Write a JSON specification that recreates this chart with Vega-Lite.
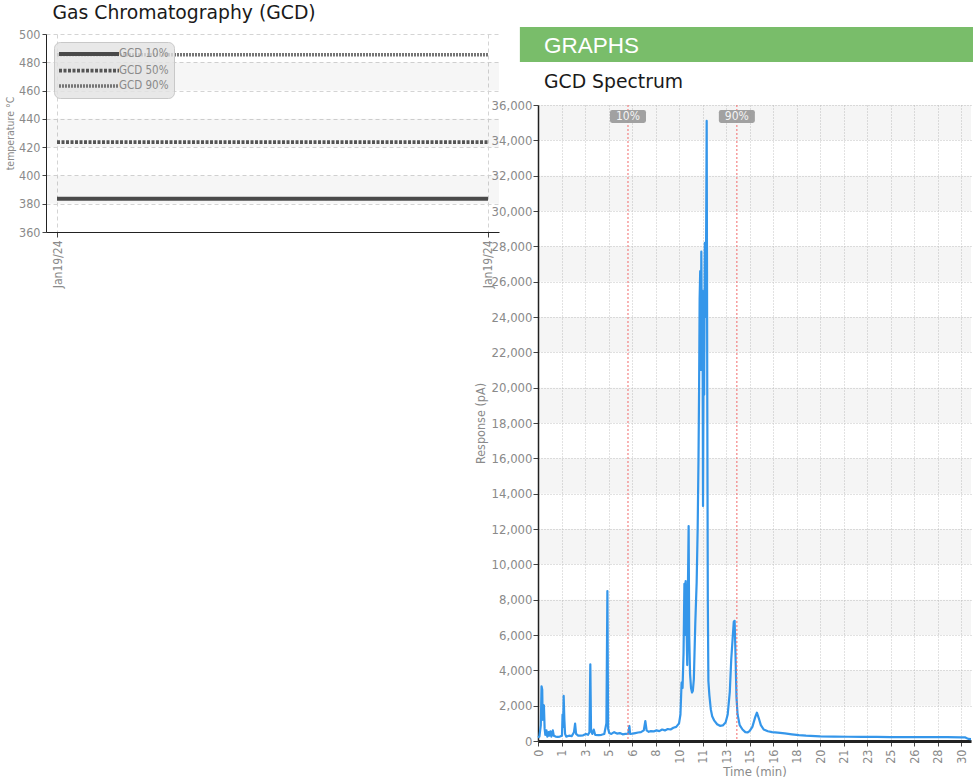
{
  "$schema": "https://vega.github.io/schema/vega-lite/v6.json",
  "background": "white",
  "padding": {"left": 5, "top": 4, "right": 0, "bottom": 0},
  "title": {"text": "Gas Chromatography (GCD)", "anchor": "start", "frame": "bounds", "dx": 47, "fontSize": 18.8, "font": "DejaVu Sans", "fontWeight": "normal", "color": "#1a1a1a", "baseline": "alphabetic", "offset": -11},
  "spacing": -25,
  "datasets": {
    "temps": [
      {"date": "2024-01-19T00:00:00", "series": "GCD 10%", "temp": 383.5},
      {"date": "2024-01-19T12:00:00", "series": "GCD 10%", "temp": 383.5},
      {"date": "2024-01-19T00:00:00", "series": "GCD 50%", "temp": 423.5},
      {"date": "2024-01-19T12:00:00", "series": "GCD 50%", "temp": 423.5},
      {"date": "2024-01-19T00:00:00", "series": "GCD 90%", "temp": 485.4},
      {"date": "2024-01-19T12:00:00", "series": "GCD 90%", "temp": 485.4}
    ],
    "tempBands": [
      {"lo": 380, "hi": 400}, {"lo": 420, "hi": 440}, {"lo": 460, "hi": 480}
    ],
    "header": [{"label": "GRAPHS"}],
    "respBands": [
      {"lo": 2000, "hi": 4000}, {"lo": 6000, "hi": 8000}, {"lo": 10000, "hi": 12000},
      {"lo": 14000, "hi": 16000}, {"lo": 18000, "hi": 20000}, {"lo": 22000, "hi": 24000},
      {"lo": 26000, "hi": 28000}, {"lo": 30000, "hi": 32000}, {"lo": 34000, "hi": 36000}
    ],
    "cuts": [
      {"label": "10%", "t": 6.38},
      {"label": "90%", "t": 14.1}
    ],
    "spectrum": [
      {"t": 0.0, "pA": 200}, {"t": 0.1, "pA": 250}, {"t": 0.2, "pA": 900}, {"t": 0.25, "pA": 3100},
      {"t": 0.3, "pA": 2900}, {"t": 0.33, "pA": 1200}, {"t": 0.38, "pA": 2050}, {"t": 0.42, "pA": 2000},
      {"t": 0.47, "pA": 700}, {"t": 0.52, "pA": 350}, {"t": 0.6, "pA": 600}, {"t": 0.66, "pA": 250},
      {"t": 0.75, "pA": 500}, {"t": 0.8, "pA": 300}, {"t": 0.88, "pA": 550}, {"t": 0.95, "pA": 250},
      {"t": 1.05, "pA": 600}, {"t": 1.12, "pA": 300}, {"t": 1.25, "pA": 250}, {"t": 1.4, "pA": 230},
      {"t": 1.55, "pA": 250}, {"t": 1.7, "pA": 300}, {"t": 1.74, "pA": 1500}, {"t": 1.78, "pA": 800},
      {"t": 1.82, "pA": 2550}, {"t": 1.87, "pA": 1200}, {"t": 1.92, "pA": 400}, {"t": 2.0, "pA": 250},
      {"t": 2.2, "pA": 300}, {"t": 2.4, "pA": 280}, {"t": 2.55, "pA": 500}, {"t": 2.63, "pA": 980},
      {"t": 2.7, "pA": 400}, {"t": 2.85, "pA": 300}, {"t": 3.0, "pA": 300}, {"t": 3.2, "pA": 320},
      {"t": 3.4, "pA": 400}, {"t": 3.55, "pA": 350}, {"t": 3.65, "pA": 500}, {"t": 3.71, "pA": 4340},
      {"t": 3.76, "pA": 600}, {"t": 3.85, "pA": 400}, {"t": 3.95, "pA": 650}, {"t": 4.05, "pA": 350},
      {"t": 4.3, "pA": 330}, {"t": 4.5, "pA": 350}, {"t": 4.7, "pA": 400}, {"t": 4.85, "pA": 1000},
      {"t": 4.92, "pA": 8490}, {"t": 4.97, "pA": 700}, {"t": 5.05, "pA": 450}, {"t": 5.2, "pA": 400},
      {"t": 5.4, "pA": 500}, {"t": 5.6, "pA": 420}, {"t": 5.8, "pA": 450}, {"t": 6.0, "pA": 380},
      {"t": 6.2, "pA": 400}, {"t": 6.4, "pA": 420}, {"t": 6.48, "pA": 850}, {"t": 6.53, "pA": 400},
      {"t": 6.7, "pA": 420}, {"t": 6.9, "pA": 450}, {"t": 7.1, "pA": 480}, {"t": 7.3, "pA": 500},
      {"t": 7.5, "pA": 600}, {"t": 7.61, "pA": 1130}, {"t": 7.7, "pA": 600}, {"t": 7.85, "pA": 520},
      {"t": 8.0, "pA": 560}, {"t": 8.2, "pA": 540}, {"t": 8.4, "pA": 600}, {"t": 8.6, "pA": 560},
      {"t": 8.8, "pA": 650}, {"t": 9.0, "pA": 600}, {"t": 9.2, "pA": 680}, {"t": 9.4, "pA": 650},
      {"t": 9.6, "pA": 750}, {"t": 9.8, "pA": 800}, {"t": 10.0, "pA": 1000}, {"t": 10.1, "pA": 1500},
      {"t": 10.18, "pA": 3300}, {"t": 10.25, "pA": 3000}, {"t": 10.32, "pA": 5000}, {"t": 10.38, "pA": 8900},
      {"t": 10.42, "pA": 6000}, {"t": 10.47, "pA": 9050}, {"t": 10.52, "pA": 7000}, {"t": 10.58, "pA": 4300},
      {"t": 10.62, "pA": 8000}, {"t": 10.68, "pA": 12170}, {"t": 10.72, "pA": 6000}, {"t": 10.78, "pA": 3800},
      {"t": 10.85, "pA": 3000}, {"t": 10.92, "pA": 2750}, {"t": 10.98, "pA": 2850}, {"t": 11.05, "pA": 3500},
      {"t": 11.15, "pA": 6600}, {"t": 11.25, "pA": 9000}, {"t": 11.32, "pA": 12000}, {"t": 11.38, "pA": 16000},
      {"t": 11.42, "pA": 19800}, {"t": 11.46, "pA": 25000}, {"t": 11.5, "pA": 26600}, {"t": 11.54, "pA": 21000},
      {"t": 11.58, "pA": 27700}, {"t": 11.62, "pA": 23000}, {"t": 11.66, "pA": 25500}, {"t": 11.7, "pA": 13300},
      {"t": 11.74, "pA": 21300}, {"t": 11.78, "pA": 19600}, {"t": 11.83, "pA": 28200}, {"t": 11.88, "pA": 24000},
      {"t": 11.92, "pA": 28500}, {"t": 11.96, "pA": 35100}, {"t": 12.0, "pA": 20000}, {"t": 12.04, "pA": 8000},
      {"t": 12.08, "pA": 3400}, {"t": 12.15, "pA": 2600}, {"t": 12.25, "pA": 1800}, {"t": 12.35, "pA": 1400},
      {"t": 12.5, "pA": 1150}, {"t": 12.7, "pA": 950}, {"t": 12.9, "pA": 860}, {"t": 13.1, "pA": 880},
      {"t": 13.3, "pA": 1050}, {"t": 13.45, "pA": 1500}, {"t": 13.6, "pA": 2800}, {"t": 13.7, "pA": 4600},
      {"t": 13.8, "pA": 5800}, {"t": 13.88, "pA": 6750}, {"t": 13.94, "pA": 6800}, {"t": 14.0, "pA": 5000},
      {"t": 14.07, "pA": 2500}, {"t": 14.15, "pA": 1500}, {"t": 14.3, "pA": 900}, {"t": 14.5, "pA": 650},
      {"t": 14.7, "pA": 500}, {"t": 14.85, "pA": 480}, {"t": 15.0, "pA": 560}, {"t": 15.2, "pA": 800},
      {"t": 15.4, "pA": 1350}, {"t": 15.52, "pA": 1600}, {"t": 15.65, "pA": 1300}, {"t": 15.8, "pA": 900},
      {"t": 16.0, "pA": 650}, {"t": 16.3, "pA": 550}, {"t": 16.6, "pA": 500}, {"t": 17.0, "pA": 470},
      {"t": 17.5, "pA": 430}, {"t": 18.0, "pA": 380}, {"t": 18.5, "pA": 330}, {"t": 19.0, "pA": 300},
      {"t": 20.0, "pA": 260}, {"t": 21.0, "pA": 250}, {"t": 22.0, "pA": 240}, {"t": 23.0, "pA": 230},
      {"t": 24.0, "pA": 230}, {"t": 25.0, "pA": 225}, {"t": 26.0, "pA": 220}, {"t": 27.0, "pA": 220},
      {"t": 28.0, "pA": 215}, {"t": 29.0, "pA": 215}, {"t": 30.0, "pA": 210}, {"t": 30.3, "pA": 200},
      {"t": 30.5, "pA": 120}, {"t": 30.7, "pA": 110}
    ]
  },
  "hconcat": [
    {
      "width": 453,
      "height": 198,
      "layer": [
        {
          "data": {"name": "tempBands"},
          "mark": {"type": "rect", "fill": "#000000", "fillOpacity": 0.035},
          "encoding": {
            "y": {
              "field": "lo", "type": "quantitative", "title": "temperature °C",
              "scale": {"domain": [360, 500]},
              "axis": {
                "tickCount": 7, "labelFlush": false,
                "grid": true, "gridDash": [4, 3], "gridColor": "#d4d4d4",
                "labelFontSize": 12.5, "titleFontSize": 10.5, "tickSize": 4,
                "labelPadding": 2, "titlePadding": 3, "domainWidth": 1
              }
            },
            "y2": {"field": "hi"}
          }
        },
        {
          "data": {"name": "temps"},
          "mark": {"type": "line"},
          "encoding": {
            "x": {
              "field": "date", "type": "temporal",
              "scale": {"domain": [
                {"year": 2024, "month": 1, "date": 18, "hours": 23, "minutes": 41, "seconds": 36},
                {"year": 2024, "month": 1, "date": 19, "hours": 12, "minutes": 18, "seconds": 24}
              ]},
              "axis": {
                "title": null,
                "values": [
                  {"year": 2024, "month": 1, "date": 19, "hours": 0},
                  {"year": 2024, "month": 1, "date": 19, "hours": 12}
                ],
                "format": "%b%d/%y", "labelAngle": 270, "labelFlush": false,
                "grid": true, "gridDash": [4, 3], "gridColor": "#d4d4d4",
                "tickSize": 5, "labelFontSize": 12, "labelPadding": 3, "domainWidth": 1
              }
            },
            "y": {
              "field": "temp", "type": "quantitative", "title": "temperature °C",
              "scale": {"domain": [360, 500]},
              "axis": {
                "tickCount": 7, "labelFlush": false,
                "grid": true, "gridDash": [4, 3], "gridColor": "#d4d4d4",
                "labelFontSize": 12.5, "titleFontSize": 10.5, "tickSize": 4,
                "labelPadding": 2, "titlePadding": 3, "domainWidth": 1
              }
            },
            "color": {
              "field": "series", "type": "nominal",
              "scale": {"domain": ["GCD 10%", "GCD 50%", "GCD 90%"], "range": ["#4a4a4a", "#555555", "#757575"]},
              "legend": {"title": null}
            },
            "strokeDash": {
              "field": "series", "type": "nominal",
              "scale": {"domain": ["GCD 10%", "GCD 50%", "GCD 90%"], "range": [[1, 0], [3, 1.5], [2, 1]]},
              "legend": {"title": null}
            },
            "strokeWidth": {
              "field": "series", "type": "nominal",
              "scale": {"domain": ["GCD 10%", "GCD 50%", "GCD 90%"], "range": [4, 3.5, 2.2]},
              "legend": {"title": null}
            }
          }
        }
      ]
    },
    {
      "spacing": 4,
      "vconcat": [
        {
          "width": 435,
          "height": 35,
          "data": {"name": "header"},
          "encoding": {
            "y": {"field": "label", "type": "nominal", "axis": null}
          },
          "layer": [
            {
              "mark": {"type": "rect", "fill": "#79bd6a", "yOffset": -7, "y2Offset": -7},
              "encoding": {
                "x": {"datum": 0, "type": "quantitative", "scale": {"domain": [0.04, 1], "nice": false, "zero": false}, "axis": null},
                "x2": {"datum": 1}
              }
            },
            {
              "mark": {"type": "text", "align": "left", "baseline": "middle", "dx": 24, "dy": -6, "fontSize": 22.5, "font": "Liberation Sans", "color": "#ffffff"},
              "encoding": {
                "x": {"datum": 0, "type": "quantitative", "scale": {"domain": [0.04, 1], "nice": false, "zero": false}, "axis": null},
                "text": {"field": "label"}
              }
            }
          ]
        },
        {
          "width": 433,
          "height": 636,
          "title": {"text": "GCD Spectrum", "anchor": "start", "frame": "group", "dx": 6, "offset": -8, "baseline": "alphabetic", "fontSize": 18.8, "font": "DejaVu Sans", "fontWeight": "normal", "color": "#1a1a1a"},
          "layer": [
            {
              "data": {"name": "respBands"},
              "mark": {"type": "rect", "fill": "#000000", "fillOpacity": 0.04},
              "encoding": {
                "y": {
                  "field": "lo", "type": "quantitative", "title": "Response (pA)",
                  "scale": {"domain": [0, 36000]},
                  "axis": {
                    "tickCount": 18, "format": ",d", "labelFlush": false,
                    "grid": true, "gridDash": [1, 2], "gridColor": "#c4c4c4",
                    "labelFontSize": 13, "titleFontSize": 12.5, "tickSize": 5,
                    "labelPadding": 1, "domainWidth": 1.5, "titlePadding": 4
                  }
                },
                "y2": {"field": "hi"}
              }
            },
            {
              "data": {"name": "spectrum"},
              "mark": {"type": "line", "color": "#3496ea", "strokeWidth": 2.2, "strokeJoin": "round"},
              "encoding": {
                "x": {
                  "field": "t", "type": "quantitative", "title": "Time (min)",
                  "scale": {"domain": [0, 30.7], "nice": false, "zero": false},
                  "axis": {
                    "values": [0, 1.6667, 3.3333, 5, 6.6667, 8.3333, 10, 11.6667, 13.3333, 15, 16.6667, 18.3333, 20, 21.6667, 23.3333, 25, 26.6667, 28.3333, 30],
                    "labelExpr": "floor(datum.value)", "labelAngle": 270, "labelFlush": false, "labelOverlap": false,
                    "grid": true, "gridDash": [1, 2], "gridColor": "#c4c4c4",
                    "labelFontSize": 12.5, "titleFontSize": 13, "tickSize": 5,
                    "domainWidth": 3, "labelPadding": 3, "titlePadding": 2
                  }
                },
                "y": {
                  "field": "pA", "type": "quantitative", "title": "Response (pA)",
                  "scale": {"domain": [0, 36000]},
                  "axis": {
                    "tickCount": 18, "format": ",d", "labelFlush": false,
                    "grid": true, "gridDash": [1, 2], "gridColor": "#c4c4c4",
                    "labelFontSize": 13, "titleFontSize": 12.5, "tickSize": 5,
                    "labelPadding": 1, "domainWidth": 1.5, "titlePadding": 4
                  }
                }
              }
            },
            {
              "data": {"name": "cuts"},
              "mark": {"type": "rule", "color": "#f26a6a", "strokeDash": [2, 2], "strokeWidth": 1},
              "encoding": {
                "x": {
                  "field": "t", "type": "quantitative", "title": "Time (min)",
                  "scale": {"domain": [0, 30.7], "nice": false, "zero": false},
                  "axis": {
                    "values": [0, 1.6667, 3.3333, 5, 6.6667, 8.3333, 10, 11.6667, 13.3333, 15, 16.6667, 18.3333, 20, 21.6667, 23.3333, 25, 26.6667, 28.3333, 30],
                    "labelExpr": "floor(datum.value)", "labelAngle": 270, "labelFlush": false, "labelOverlap": false,
                    "grid": true, "gridDash": [1, 2], "gridColor": "#c4c4c4",
                    "labelFontSize": 12.5, "titleFontSize": 13, "tickSize": 5,
                    "domainWidth": 3, "labelPadding": 3, "titlePadding": 2
                  }
                }
              }
            },
            {
              "data": {"name": "cuts"},
              "mark": {"type": "point", "shape": "M-0.88,-0.36H0.88Q1,-0.36 1,-0.24V0.24Q1,0.36 0.88,0.36H-0.88Q-1,0.36 -1,0.24V-0.24Q-1,-0.36 -0.88,-0.36Z", "size": 1296, "filled": true, "color": "#9c9c9c", "opacity": 0.95, "strokeWidth": 0},
              "encoding": {
                "x": {
                  "field": "t", "type": "quantitative", "title": "Time (min)",
                  "scale": {"domain": [0, 30.7], "nice": false, "zero": false},
                  "axis": {
                    "values": [0, 1.6667, 3.3333, 5, 6.6667, 8.3333, 10, 11.6667, 13.3333, 15, 16.6667, 18.3333, 20, 21.6667, 23.3333, 25, 26.6667, 28.3333, 30],
                    "labelExpr": "floor(datum.value)", "labelAngle": 270, "labelFlush": false, "labelOverlap": false,
                    "grid": true, "gridDash": [1, 2], "gridColor": "#c4c4c4",
                    "labelFontSize": 12.5, "titleFontSize": 13, "tickSize": 5,
                    "domainWidth": 3, "labelPadding": 3, "titlePadding": 2
                  }
                },
                "y": {
                  "datum": 35350, "type": "quantitative", "title": "Response (pA)",
                  "scale": {"domain": [0, 36000]},
                  "axis": {
                    "tickCount": 18, "format": ",d", "labelFlush": false,
                    "grid": true, "gridDash": [1, 2], "gridColor": "#c4c4c4",
                    "labelFontSize": 13, "titleFontSize": 12.5, "tickSize": 5,
                    "labelPadding": 1, "domainWidth": 1.5, "titlePadding": 4
                  }
                }
              }
            },
            {
              "data": {"name": "cuts"},
              "mark": {"type": "text", "color": "#f4f4f4", "fontSize": 12, "font": "DejaVu Sans Condensed", "align": "center", "baseline": "middle"},
              "encoding": {
                "x": {
                  "field": "t", "type": "quantitative", "title": "Time (min)",
                  "scale": {"domain": [0, 30.7], "nice": false, "zero": false},
                  "axis": {
                    "values": [0, 1.6667, 3.3333, 5, 6.6667, 8.3333, 10, 11.6667, 13.3333, 15, 16.6667, 18.3333, 20, 21.6667, 23.3333, 25, 26.6667, 28.3333, 30],
                    "labelExpr": "floor(datum.value)", "labelAngle": 270, "labelFlush": false, "labelOverlap": false,
                    "grid": true, "gridDash": [1, 2], "gridColor": "#c4c4c4",
                    "labelFontSize": 12.5, "titleFontSize": 13, "tickSize": 5,
                    "domainWidth": 3, "labelPadding": 3, "titlePadding": 2
                  }
                },
                "y": {
                  "datum": 35350, "type": "quantitative", "title": "Response (pA)",
                  "scale": {"domain": [0, 36000]},
                  "axis": {
                    "tickCount": 18, "format": ",d", "labelFlush": false,
                    "grid": true, "gridDash": [1, 2], "gridColor": "#c4c4c4",
                    "labelFontSize": 13, "titleFontSize": 12.5, "tickSize": 5,
                    "labelPadding": 1, "domainWidth": 1.5, "titlePadding": 4
                  }
                },
                "text": {"field": "label"}
              }
            }
          ]
        }
      ]
    }
  ],
  "config": {
    "view": {"stroke": null},
    "axis": {
      "labelFont": "DejaVu Sans Condensed", "titleFont": "DejaVu Sans Condensed",
      "labelColor": "#8a8a8a", "titleColor": "#8a8a8a", "titleFontWeight": "normal",
      "domainColor": "#222222", "tickColor": "#444444"
    },
    "legend": {
      "orient": "top-left", "offset": 8, "padding": 5,
      "fillColor": "rgba(226,226,226,0.8)", "strokeColor": "#c8c8c8", "cornerRadius": 6,
      "symbolType": "M-6,0H6", "symbolSize": 100, "symbolOffset": 23,
      "labelFont": "DejaVu Sans Condensed", "labelFontSize": 11.5, "labelColor": "#8a8a8a",
      "labelOffset": 23, "rowPadding": 0.5
    }
  }
}
